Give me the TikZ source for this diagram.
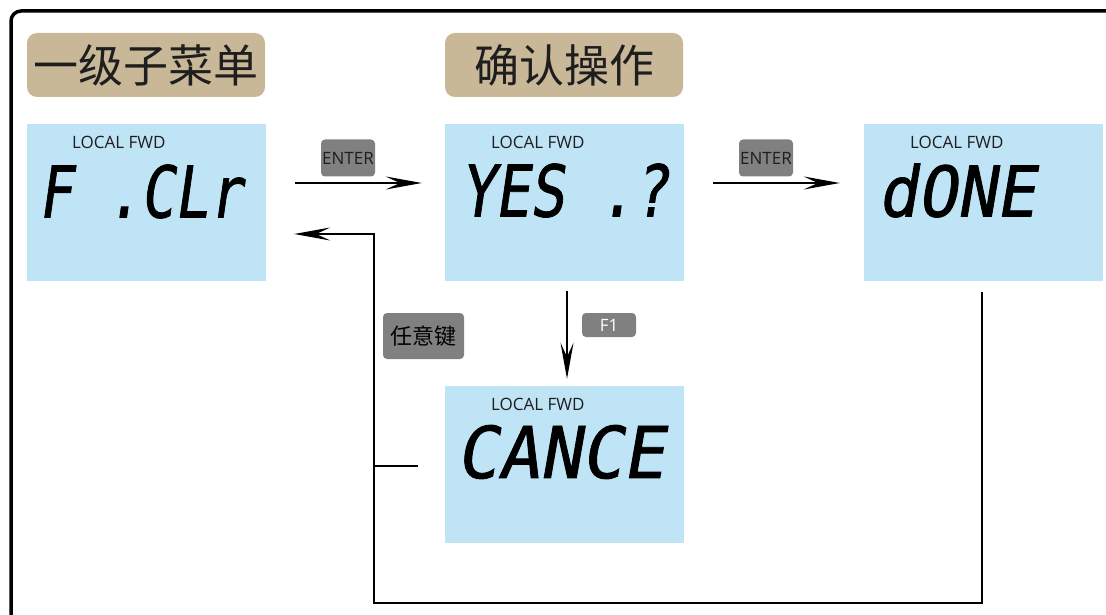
\documentclass[tikz,border=0pt]{standalone}
\usepackage{fontspec}
\setmainfont{Open Sans}
\newfontfamily\cjk{Noto Sans CJK SC}
\newfontfamily\lcdfont[FakeSlant=0.18,FakeBold=1.2]{DejaVu Sans Mono}
\usetikzlibrary{arrows.meta}
\definecolor{lcdblue}{RGB}{191,228,246}
\definecolor{tan}{RGB}{201,184,152}
\definecolor{keygrey}{RGB}{128,128,128}
\definecolor{inktxt}{RGB}{30,30,30}
\tikzset{
  lcdbox/.style={rectangle, fill=lcdblue, minimum width=239pt, minimum height=157pt, inner sep=0pt},
  headbox/.style={rectangle, rounded corners=10pt, fill=tan, minimum width=238pt, minimum height=64pt, inner sep=0pt, font=\cjk\fontsize{45pt}{48pt}\selectfont, text=inktxt},
  keybox/.style={rectangle, rounded corners=4pt, fill=keygrey, inner sep=0pt, font=\fontsize{17pt}{19pt}\selectfont},
  statustxt/.style={anchor=west, inner sep=0pt, font=\fontsize{17pt}{19pt}\selectfont, text=inktxt},
  segtxt/.style={anchor=west, inner sep=0pt, text=black},
  conn/.style={line width=2.2pt, black},
  arr/.style={conn, -{Stealth[length=36pt,width=13pt,inset=14pt]}},
}
\newcommand{\lcdtext}[2]{\resizebox{#1}{53pt}{\lcdfont #2}}
\begin{document}
\begin{tikzpicture}[x=1pt,y=-1pt]
\useasboundingbox (0,0) rectangle (1106,615);
\fill[white] (0,0) rectangle (1106,615);
\clip (0,0) rectangle (1106,615);
\draw[line width=3.5pt, rounded corners=10pt] (11,11) rectangle (1140,650);

% headings
\node[headbox] (h1) at (146,65) {一级子菜单};
\node[headbox] (h2) at (564,65) {确认操作};

% LCD screens
\node[lcdbox] (lcd1) at (146.5,202.5) {};
\node[lcdbox] (lcd2) at (564.5,202.5) {};
\node[lcdbox] (lcd3) at (983.5,202.5) {};
\node[lcdbox] (lcd4) at (564.5,464.5) {};

\node[statustxt] (s1) at (72,142) {LOCAL FWD};
\node[statustxt] (s2) at (491,142) {LOCAL FWD};
\node[statustxt] (s3) at (910,142) {LOCAL FWD};
\node[statustxt] (s4) at (491,404) {LOCAL FWD};

\node[segtxt] (t1) at (38,191.5) {\lcdtext{204pt}{F .CLr}};
\node[segtxt] (t2) at (460,190.5) {\lcdtext{208pt}{YES .?}};
\node[segtxt] (t3) at (878,190.5) {\lcdtext{157pt}{dONE}};
\node[segtxt] (t4) at (456,452) {\lcdtext{208pt}{CANCE}};

% key labels
\node[keybox, minimum width=54pt, minimum height=37pt, text=inktxt] (k1) at (348,158) {ENTER};
\node[keybox, minimum width=54pt, minimum height=37pt, text=inktxt] (k2) at (766,158) {ENTER};
\node[keybox, minimum width=54pt, minimum height=24pt, text=white] (k3) at (609,325) {F1};
\node[keybox, minimum width=81pt, minimum height=46pt, text=black, font=\cjk\fontsize{22pt}{24pt}\selectfont] (k4) at (423.5,336) {任意键};

% connectors
\draw[arr] ([xshift=29pt,yshift=19.5pt]lcd1.east) -- ([xshift=-23pt,yshift=19.5pt]lcd2.west);
\draw[arr] ([xshift=29pt,yshift=19.5pt]lcd2.east) -- ([xshift=-24pt,yshift=19.5pt]lcd3.west);
\draw[arr] ([xshift=2.5pt,yshift=-10pt]lcd2.south) -- ([xshift=2.5pt,yshift=7pt]lcd4.north);

\coordinate (j) at (374,466);
\coordinate (bl) at (374,603);
\draw[arr] ([xshift=-27pt,yshift=-1.5pt]lcd4.west) -- (j) |- ([xshift=28pt,yshift=-31.5pt]lcd1.east);
\draw[conn] ([xshift=-1.5pt,yshift=-11pt]lcd3.south) |- (bl) -- (j);
\end{tikzpicture}
\end{document}
